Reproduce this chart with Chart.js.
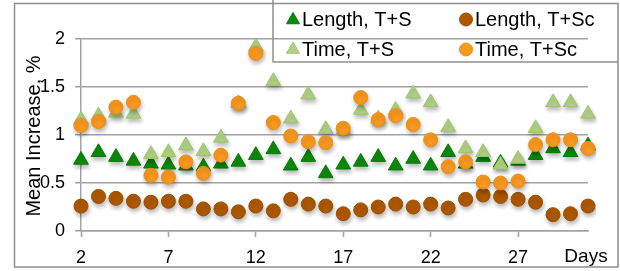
<!DOCTYPE html>
<html>
<head>
<meta charset="utf-8">
<script src="https://cdn.jsdelivr.net/npm/chart.js@4.4.0/dist/chart.umd.min.js"></script>
<style>
  html, body { margin: 0; padding: 0; background: #fff; }
  #wrap { position: relative; width: 620px; height: 271px; }
</style>
</head>
<body>
<div id="wrap"><canvas id="chart" width="620" height="271"></canvas></div>
<script>
// days on the x axis
var days = [2, 3, 4, 5, 6, 7, 8, 9, 10, 11, 12, 13, 14, 15, 16, 17, 18, 19, 20, 21, 22, 23, 24, 25, 26, 27, 28, 29, 30, 31];
var dayTicks = [2, 7, 12, 17, 22, 27];
var yTicks = [0, 0.5, 1, 1.5, 2];

// mean increase, %
var lengthTS  = [0.74, 0.82, 0.77, 0.73, 0.70, 0.69, 0.68, 0.67, 0.70, 0.72, 0.79, 0.85, 0.68, 0.77, 0.60, 0.69, 0.72, 0.77, 0.68, 0.75, 0.68, 0.82, 0.70, 0.77, 0.71, 0.73, 0.79, 0.86, 0.82, 0.89];
var lengthTSc = [0.26, 0.36, 0.34, 0.31, 0.30, 0.31, 0.31, 0.23, 0.23, 0.20, 0.26, 0.21, 0.33, 0.28, 0.26, 0.18, 0.22, 0.25, 0.28, 0.25, 0.28, 0.24, 0.33, 0.375, 0.36, 0.33, 0.30, 0.17, 0.18, 0.26];
var timeTS    = [1.16, 1.20, 1.23, 1.22, 0.80, 0.82, 0.89, 0.83, 0.97, 1.33, 1.92, 1.56, 1.17, 1.42, 1.06, 1.05, 1.26, 1.17, 1.26, 1.43, 1.34, 1.08, 0.86, 0.82, 0.69, 0.75, 1.07, 1.34, 1.34, 1.22];
var timeTSc   = [1.10, 1.14, 1.29, 1.34, 0.58, 0.56, 0.72, 0.60, 0.79, 1.33, 1.85, 1.13, 0.99, 0.93, 0.92, 1.07, 1.39, 1.16, 1.20, 1.11, 0.95, 0.67, 0.72, 0.51, 0.50, 0.52, 0.90, 0.95, 0.95, 0.86];

var seriesNames = ["Length, T+S", "Length, T+Sc", "Time, T+S", "Time, T+Sc"];

var FONT = "'Liberation Sans', Arial, sans-serif";
var GRID = "#a3a3a3";
var FRAME = "#8e8e8e";

var colors = {
	darkGreen : { fill : "#0b8c0b", line : "#087808" },
	brown : { fill : "#ad5800", line : "#9c4f00" },
	lightGreen : { fill : "#b2d386", line : "#9dc46c" },
	orange : { fill : "#f8981f", line : "#ef8c12" }
};

// marker drawing for the legend (same shapes as the chart)
function marker(ctx, style, x, y, r, c) {
	ctx.save();
	ctx.fillStyle = c.fill;
	ctx.strokeStyle = c.line;
	ctx.lineWidth = 1;
	ctx.beginPath();
	if (style == "triangle") {
		ctx.moveTo(x, y - r);
		ctx.lineTo(x + r * 0.866, y + r * 0.5);
		ctx.lineTo(x - r * 0.866, y + r * 0.5);
		ctx.closePath();
	} else {
		ctx.arc(x, y, r, 0, Math.PI * 2);
	}
	ctx.fill();
	ctx.stroke();
	ctx.restore();
}

var decor = {
	id : "decor",
	beforeDatasetDraw : function(chart) {
		var ctx = chart.ctx;
		ctx.save();
		ctx.shadowColor = "rgba(0,0,0,0.28)";
		ctx.shadowBlur = 4;
		ctx.shadowOffsetX = 1;
		ctx.shadowOffsetY = 3;
	},
	afterDatasetDraw : function(chart) {
		chart.ctx.restore();
	},
	afterDraw : function(chart) {
		var ctx = chart.ctx;
		ctx.save();

		// outer frame
		ctx.strokeStyle = FRAME;
		ctx.lineWidth = 1.5;
		ctx.strokeRect(14.5, 3.5, 603.5, 263.5);

		// legend box (transparent, gridline shows through)
		ctx.beginPath();
		ctx.moveTo(273, 0);
		ctx.lineTo(273, 62);
		ctx.lineTo(618, 62);
		ctx.stroke();

		ctx.fillStyle = "#000";
		ctx.font = "20px " + FONT;
		ctx.textAlign = "left";
		ctx.textBaseline = "alphabetic";
		marker(ctx, "triangle", 293, 20, 7.5, colors.darkGreen);
		ctx.fillText(seriesNames[0], 302, 26);
		marker(ctx, "circle", 466, 19.5, 6.5, colors.brown);
		ctx.fillText(seriesNames[1], 475, 26);
		marker(ctx, "triangle", 293, 49.5, 7.5, colors.lightGreen);
		ctx.fillText(seriesNames[2], 302, 56);
		marker(ctx, "circle", 466, 49.5, 6.5, colors.orange);
		ctx.fillText(seriesNames[3], 475, 56);

		// axis titles
		ctx.font = "19px " + FONT;
		ctx.textAlign = "center";
		ctx.textBaseline = "alphabetic";
		ctx.fillText("Days", 586, 262);

		ctx.translate(34, 136);
		ctx.rotate(-Math.PI / 2);
		ctx.font = "20px " + FONT;
		ctx.textBaseline = "middle";
		ctx.fillText("Mean Increase, %", 0, 0);
		ctx.restore();
	}
};

function series(label, values, style, radius, c, order) {
	return {
		label : label,
		data : values,
		showLine : false,
		pointStyle : style,
		pointRadius : radius,
		pointHoverRadius : radius,
		pointBackgroundColor : c.fill,
		pointBorderColor : c.line,
		pointBorderWidth : 1,
		backgroundColor : c.fill,
		borderColor : c.line,
		order : order
	};
}

var data = {
	labels : days,
	datasets : [
		series(seriesNames[0], lengthTS, "triangle", 8.5, colors.darkGreen, 4),
		series(seriesNames[1], lengthTSc, "circle", 7, colors.brown, 3),
		series(seriesNames[2], timeTS, "triangle", 8.5, colors.lightGreen, 2),
		series(seriesNames[3], timeTSc, "circle", 7, colors.orange, 1)
	]
};

var options = {
	responsive : false,
	animation : false,
	devicePixelRatio : 1,
	layout : { padding : { left : 0, right : 32, top : 39, bottom : 0 } },
	plugins : {
		legend : { display : false },
		title : { display : false },
		tooltip : { enabled : false }
	},
	scales : {
		x : {
			type : "category",
			offset : false,
			afterFit : function(scale) { scale.height = 40; },
			grid : {
				drawOnChartArea : false,
				tickLength : 6,
				tickWidth : 1.5,
				tickColor : function(c) {
					return dayTicks.indexOf(days[c.index]) >= 0 ? GRID : "rgba(0,0,0,0)";
				}
			},
			border : { color : GRID, width : 1.5 },
			ticks : {
				autoSkip : false,
				maxRotation : 0,
				padding : 10,
				color : "#000",
				font : { family : FONT, size : 18 },
				callback : function(v, i) {
					return dayTicks.indexOf(days[i]) >= 0 ? String(days[i]) : "";
				}
			}
		},
		y : {
			min : 0,
			max : 2,
			afterFit : function(scale) { scale.width = 81; },
			afterBuildTicks : function(scale) {
				scale.ticks = yTicks.map(function(v) { return { value : v }; });
			},
			grid : { color : GRID, lineWidth : 1.5, tickLength : 6 },
			border : { color : GRID, width : 1.5 },
			ticks : {
				padding : 10,
				color : "#000",
				font : { family : FONT, size : 18 },
				callback : function(v) { return String(v); }
			}
		}
	}
};

var ctx = document.getElementById("chart");
var chart = new Chart(ctx, {
	type : "line",
	data : data,
	options : options,
	plugins : [decor]
});
</script>
</body>
</html>
